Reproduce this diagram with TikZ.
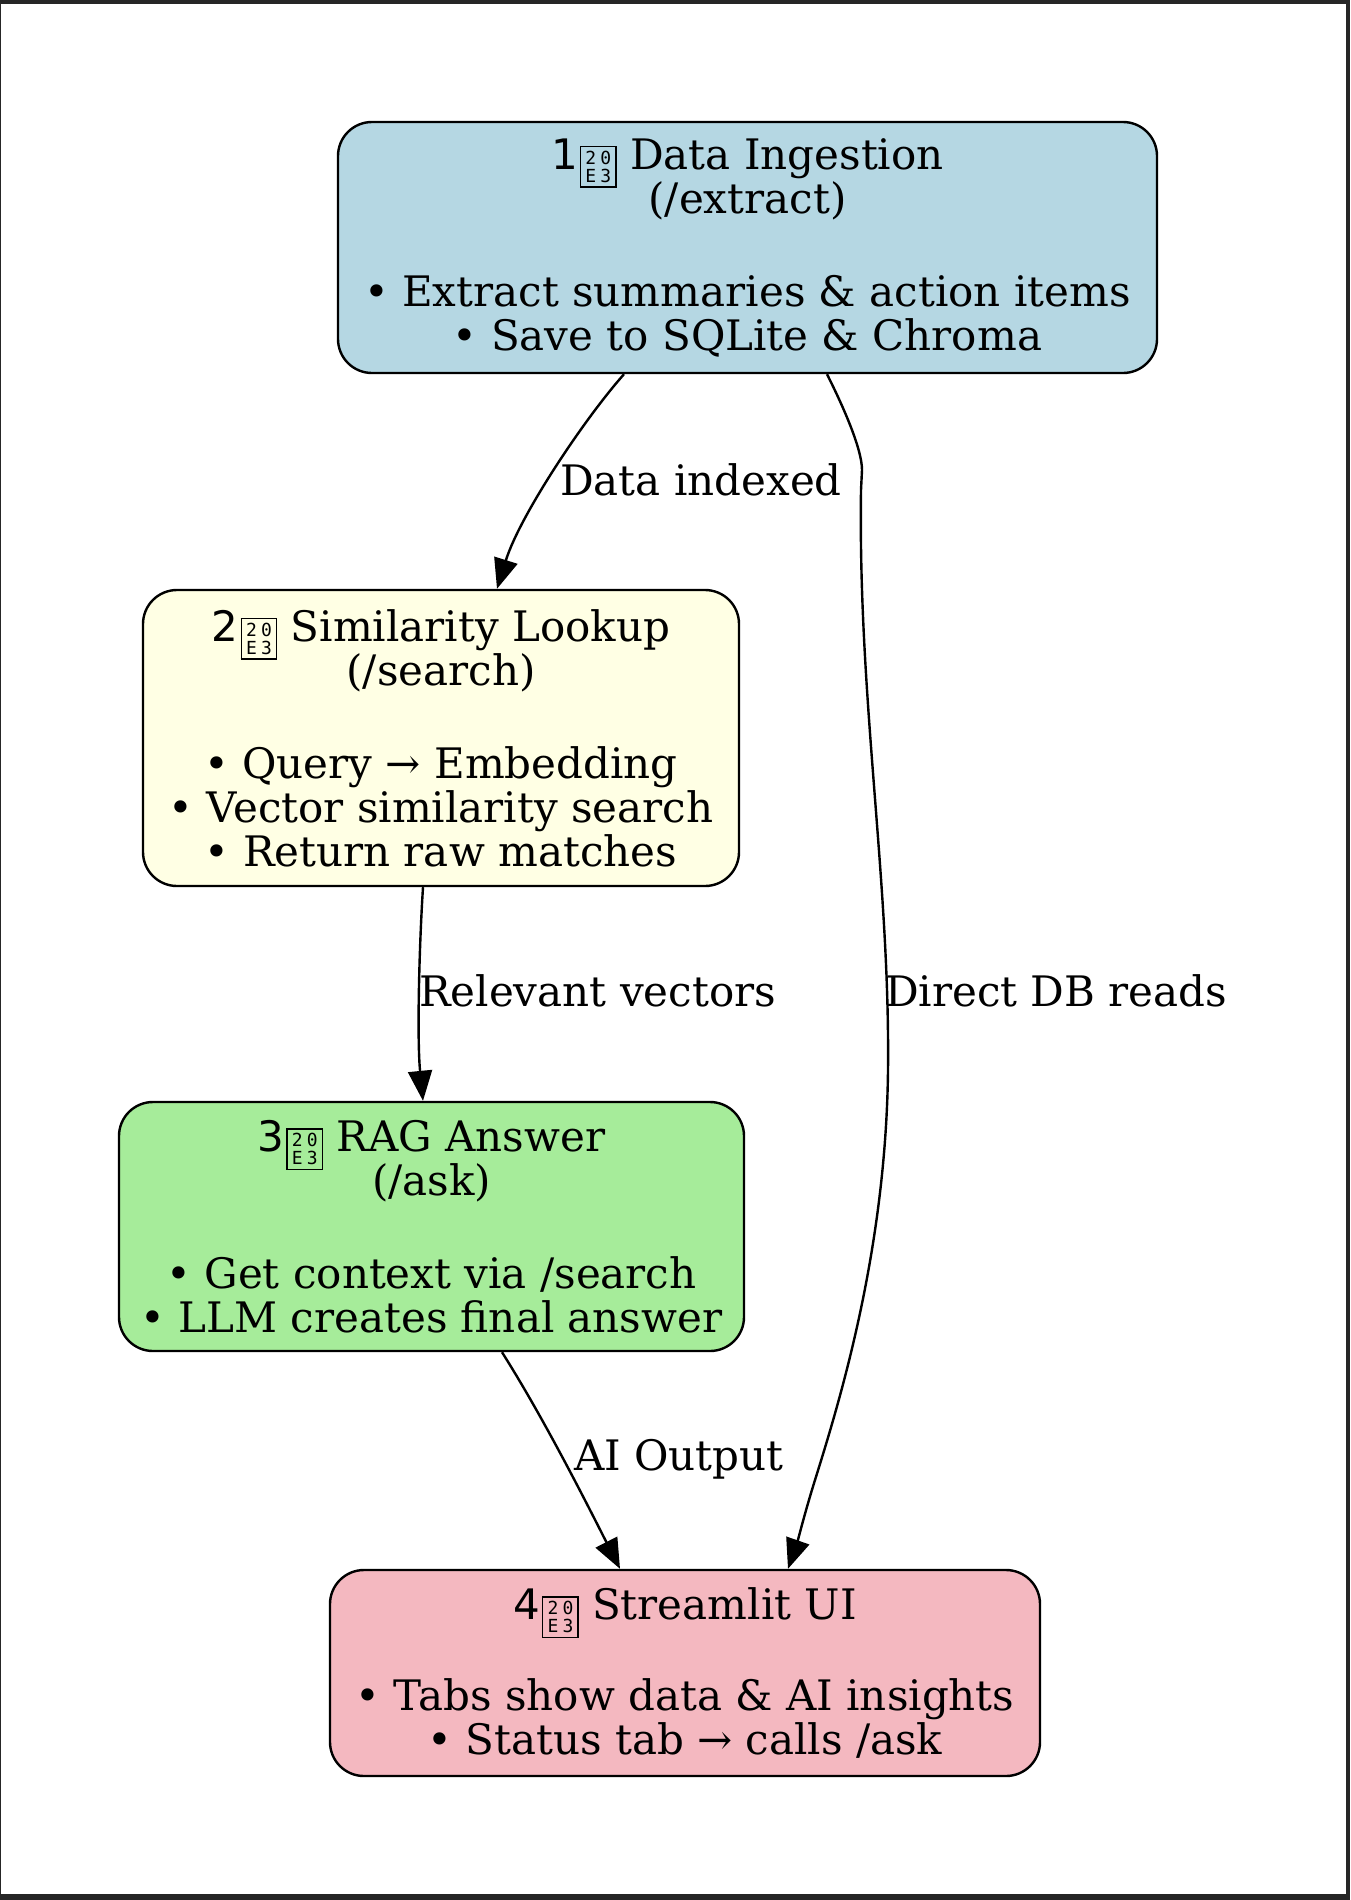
\documentclass[tikz,border=0pt]{standalone}
\usepackage{fontspec}
\setmainfont{DejaVu Serif}
\newfontfamily\digitfont{DejaVu Sans}
\newfontfamily\tofufont{DejaVu Sans Mono}
\usetikzlibrary{arrows.meta}

\definecolor{frameGray}{HTML}{262626}
\definecolor{ingestBlue}{HTML}{B5D7E3}
\definecolor{lookupYellow}{HTML}{FFFFE4}
\definecolor{answerGreen}{HTML}{A6EC9A}
\definecolor{uiPink}{HTML}{F4B8C0}

% digit followed by the missing-glyph box of the keycap mark
\newcommand{\tofuchar}[1]{\makebox[15pt]{#1}}
\newcommand{\tofubox}{\raisebox{-4pt}[0pt][0pt]{\setlength{\fboxsep}{0pt}\setlength{\fboxrule}{1.4pt}\fbox{\parbox[c][39pt][c]{34pt}{\centering\tofufont\fontsize{18}{18}\selectfont\tofuchar{2}\tofuchar{0}\\\tofuchar{E}\tofuchar{3}}}}}
\newcommand{\keycap}[1]{{\digitfont #1}\hspace{2pt}\tofubox}

\begin{document}
\begin{tikzpicture}[x = 1pt, y = -1pt]
\tikzstyle{StepStyle} = [draw, line width = 2.4pt, rounded corners = 34pt, align = center, inner sep = 0pt, font = \fontsize{42}{44}\selectfont]
\tikzstyle{EdgeStyle} = [line width = 2.4pt, -{Triangle[length = 30pt, width = 24pt]}]
\tikzstyle{LabelStyle} = [anchor = west, inner sep = 0pt, font = \fontsize{42}{44}\selectfont]
% frame
\fill[frameGray] (0,0) rectangle (1350,1900);
\fill[white] (1,4) rectangle (1346,1894);
\useasboundingbox (0,0) rectangle (1350,1900);
% steps
\node[StepStyle, fill = ingestBlue, minimum width = 819pt, minimum height = 251pt] (v1) at (747.5,247.5) {\keycap{1} Data Ingestion\\(/extract)\\[49pt]• Extract summaries \& action items\\• Save to SQLite \& Chroma};
\node[StepStyle, fill = lookupYellow, minimum width = 596pt, minimum height = 296pt] (v2) at (441,738) {\keycap{2} Similarity Lookup\\(/search)\\[49pt]• Query → Embedding\\• Vector similarity search\\• Return raw matches};
\node[StepStyle, fill = answerGreen, minimum width = 625pt, minimum height = 249pt] (v3) at (431.5,1226.5) {\keycap{3} RAG Answer\\(/ask)\\[49pt]• Get context via /search\\• LLM creates final answer};
\node[StepStyle, fill = uiPink, minimum width = 710pt, minimum height = 206pt] (v4) at (685,1673) {\keycap{4} Streamlit UI\\[47pt]• Tabs show data \& AI insights\\• Status tab → calls /ask};
% connectors
\draw[EdgeStyle] ([xshift = -123.5pt]v1.south) .. controls (585,418) and (520,515) .. ([xshift = 56pt]v2.north);
\draw[EdgeStyle] ([xshift = -18pt]v2.south) .. controls (419,950) and (417,1040) .. ([xshift = -8.5pt]v3.north);
\draw[EdgeStyle] ([xshift = 79.5pt]v1.south) .. controls (845,410) and (862,450) .. (862,470) -- (861,490) .. controls (858,700) and (890,880) .. (888,1070) .. controls (886,1250) and (840,1400) .. (815,1480) .. controls (805,1512) and (798,1540) .. ([xshift = 103pt]v4.north);
\draw[EdgeStyle] ([xshift = 70.5pt]v3.south) .. controls (545,1420) and (590,1510) .. ([xshift = -65pt]v4.north);
% edge labels
\node[LabelStyle] (l1) at (560,480) {Data indexed};
\node[LabelStyle] (l2) at (419,991) {Relevant vectors};
\node[LabelStyle] (l3) at (885,991) {Direct DB reads};
\node[LabelStyle] (l4) at (574,1459) {AI Output};
\end{tikzpicture}
\end{document}
